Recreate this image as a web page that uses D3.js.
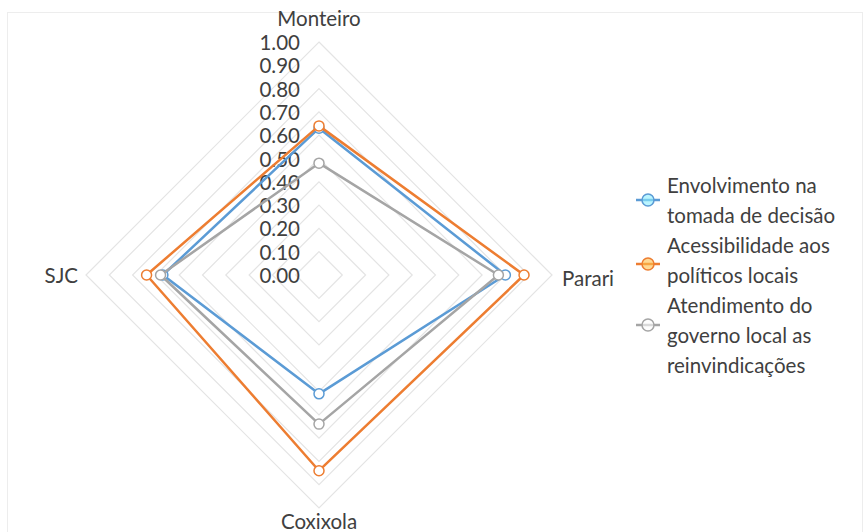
<!DOCTYPE html>
<html>
<head>
<meta charset="utf-8">
<script src="https://cdn.jsdelivr.net/npm/d3@7"></script>
<style>
  html, body { margin: 0; padding: 0; background: #fff; }
  svg { display: block; }
  text { font-family: Lato, "Open Sans", sans-serif; fill: #404040; }
</style>
</head>
<body>
<svg id="chart" width="867" height="532"></svg>
<script>
// Axes of the radar (clockwise from the top)
const categories = ["Monteiro", "Parari", "Coxixola", "SJC"];

// Series names (legend text, already split into lines)
const seriesNames = [
  ["Envolvimento na", "tomada de decisão"],
  ["Acessibilidade aos", "políticos locais"],
  ["Atendimento do", "governo local as", "reinvindicações"]
];

// Values per series, in the order of categories
const envolvimento   = [0.63, 0.80, 0.51, 0.67];
const acessibilidade = [0.64, 0.88, 0.84, 0.74];
const atendimento    = [0.48, 0.77, 0.64, 0.68];

const seriesValues = [envolvimento, acessibilidade, atendimento];
const seriesColors = ["#5B9BD5", "#ED7D31", "#A5A5A5"];

// Radial tick labels
const tickValues = [0, 0.1, 0.2, 0.3, 0.4, 0.5, 0.6, 0.7, 0.8, 0.9, 1.0];

const svg = d3.select("#chart");
const cx = 319, cy = 275, R = 233;
const FS = 20.5;

// faint chart frame
svg.append("rect")
  .attr("x", 7.5).attr("y", 12.5)
  .attr("width", 855).attr("height", 540)
  .attr("fill", "none").attr("stroke", "#ededed").attr("stroke-width", 1);

const r = d3.scaleLinear().domain([0, 1]).range([0, R]);
const ang = c => categories.indexOf(c) * 2 * Math.PI / categories.length;

const pt = (c, v) => {
  const a = ang(c);
  return [cx + r(v) * Math.sin(a), cy - r(v) * Math.cos(a)];
};

const g = svg.append("g");

// concentric grid rings
const ringLine = d3.line().curve(d3.curveLinearClosed);
g.append("g").selectAll("path")
  .data(tickValues)
  .join("path")
  .attr("d", t => ringLine(categories.map(c => pt(c, t))))
  .attr("fill", "none")
  .attr("stroke", "#e4e4e4")
  .attr("stroke-width", 1.2);

// tick labels along the vertical axis
g.append("g").selectAll("text")
  .data(tickValues)
  .join("text")
  .attr("x", cx - 19)
  .attr("y", t => cy - r(t))
  .attr("text-anchor", "end")
  .attr("dominant-baseline", "central")
  .attr("font-size", FS)
  .text(d3.format(".2f"));

// category labels
const catLabel = [
  { c: "Monteiro", dx: 0, dy: -257, anchor: "middle" },
  { c: "Parari", dx: 243, dy: 3, anchor: "start" },
  { c: "Coxixola", dx: 0, dy: 246, anchor: "middle" },
  { c: "SJC", dx: -241, dy: 0, anchor: "end" }
];
g.append("g").selectAll("text")
  .data(catLabel)
  .join("text")
  .attr("x", d => cx + d.dx)
  .attr("y", d => cy + d.dy)
  .attr("text-anchor", d => d.anchor)
  .attr("dominant-baseline", "central")
  .attr("font-size", FS)
  .text(d => d.c);

// series polygons and markers
const line = d3.line().curve(d3.curveLinearClosed);
seriesValues.forEach((vals, i) => {
  const pts = categories.map((c, j) => pt(c, vals[j]));
  const sg = g.append("g");
  sg.append("path")
    .attr("d", line(pts))
    .attr("fill", "none")
    .attr("stroke", seriesColors[i])
    .attr("stroke-width", 2.5)
    .attr("stroke-linejoin", "round");
  sg.selectAll("circle")
    .data(pts)
    .join("circle")
    .attr("cx", d => d[0]).attr("cy", d => d[1])
    .attr("r", 5)
    .attr("fill", "#fff")
    .attr("stroke", seriesColors[i])
    .attr("stroke-width", 1.5);
});

// legend
const legendMarkerY = [200, 264, 325];
const legendLineY = [[185, 215], [245, 275], [305, 335, 365]];
const lg = svg.append("g");
seriesNames.forEach((lines, i) => {
  const my = legendMarkerY[i];
  lg.append("line")
    .attr("x1", 636).attr("x2", 660)
    .attr("y1", my).attr("y2", my)
    .attr("stroke", seriesColors[i]).attr("stroke-width", 2.5);
  lg.append("circle")
    .attr("cx", 648).attr("cy", my).attr("r", 6)
    .attr("fill", d3.color(seriesColors[i]).brighter(1.2))
    .attr("fill-opacity", 0.6)
    .attr("stroke", seriesColors[i]).attr("stroke-width", 1.5);
  lines.forEach((t, k) => {
    lg.append("text")
      .attr("x", 667)
      .attr("y", legendLineY[i][k])
      .attr("dominant-baseline", "central")
      .attr("font-size", FS)
      .text(t);
  });
});
</script>
</body>
</html>
